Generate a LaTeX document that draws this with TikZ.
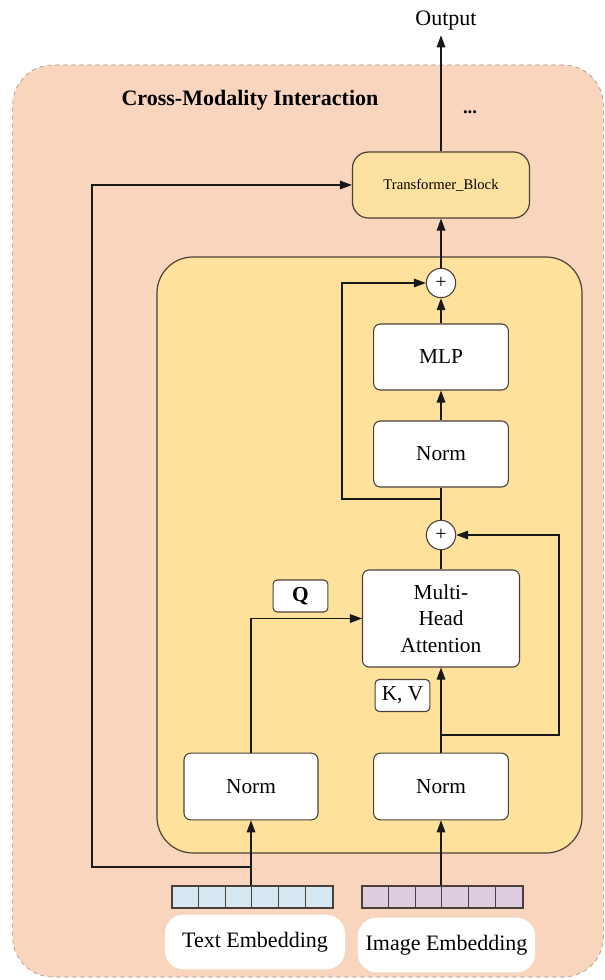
\documentclass[tikz,border=0pt]{standalone}
\usepackage{fontspec}
\setmainfont{Liberation Serif}
\usetikzlibrary{arrows.meta,calc}
\definecolor{peach}{HTML}{F9D5BD}
\definecolor{ylw}{HTML}{FEE29B}
\definecolor{tbfill}{HTML}{FDE1A0}
\definecolor{bord}{HTML}{4A4038}
\definecolor{tblue}{HTML}{D5E7F1}
\definecolor{tpurp}{HTML}{DDCCE0}
\begin{document}
\begin{tikzpicture}[x=0.75pt,y=-0.75pt,
  box/.style={draw=bord,line width=0.8pt,fill=white,rounded corners=5pt,align=center,inner sep=0pt,font=\fontsize{16}{20}\selectfont},
  lbl/.style={draw=bord,line width=0.8pt,fill=white,rounded corners=3pt,inner sep=0pt,minimum width=41pt,minimum height=24pt,font=\fontsize{16}{17}\selectfont},
  plus/.style={draw=bord,line width=0.8pt,fill=white,circle,inner sep=0pt,minimum size=22pt,font=\fontsize{15}{15}\selectfont},
  arr/.style={draw=black!90,line width=0.8pt,-{Triangle[length=9pt,width=6.5pt]}},
  ln/.style={draw=black!90,line width=0.8pt},
  bar/.style={draw=bord,line width=0.8pt,minimum width=120.75pt,minimum height=16.5pt,inner sep=0pt},
  emb/.style={fill=white,rounded corners=14pt,inner sep=0pt,font=\fontsize{16.5}{17}\selectfont}]
\useasboundingbox (0,0) rectangle (605,980);
% outer region
\node[draw=black!45,dashed,line width=0.4pt,fill=peach,rounded corners=30pt,minimum width=443pt,minimum height=684pt,inner sep=0pt] (outer) at (308,521) {};
% inner block
\node[draw=bord,line width=0.9pt,fill=ylw,rounded corners=27pt,minimum width=318.75pt,minimum height=447pt,inner sep=0pt] (inner) at (369.5,555) {};
% texts
\node[font=\fontsize{16.5}{17}\selectfont] (out) at (446,21) {Output};
\node[font=\bfseries\fontsize{16.5}{17}\selectfont] (title) at (250,100) {Cross-Modality Interaction};
\node[font=\bfseries\fontsize{14}{14}\selectfont] (dots) at (470,112) {...};
% transformer block
\node[draw=bord,line width=0.9pt,fill=tbfill,rounded corners=12pt,minimum width=132.75pt,minimum height=49.5pt,inner sep=0pt,font=\fontsize{11}{12}\selectfont] (tb) at (441,185) {Transformer\_Block};
% inner components
\node[plus] (p2) at (441,283) {+};
\node[box,minimum width=101pt,minimum height=49.5pt] (mlp) at (441,357) {MLP};
\node[box,minimum width=101pt,minimum height=49.5pt] (norm3) at (441,454) {Norm};
\node[plus] (p1) at (441,535) {+};
\node[box,minimum width=117.75pt,minimum height=72.75pt] (mha) at (441,618.5) {Multi-\\Head\\Attention};
\node[lbl,font=\bfseries\fontsize{16}{17}\selectfont] (q) at (300.5,596) {Q};
\node[lbl] (kv) at (402.5,695.5) {K, V};
\node[box,minimum width=100.5pt,minimum height=50pt] (norm1) at (251,786.5) {Norm};
\node[box,minimum width=101pt,minimum height=50pt] (norm2) at (441,786.5) {Norm};
% embedding bars
\node[bar,fill=tblue] (tbar) at (252.5,897) {};
\node[bar,fill=tpurp] (ibar) at (442.5,897) {};
\foreach \i in {1,...,5}{
  \draw[draw=bord,line width=0.8pt] ($(tbar.north west)+(\i*26.83,0)$) -- ($(tbar.south west)+(\i*26.83,0)$);
  \draw[draw=bord,line width=0.8pt] ($(ibar.north west)+(\i*26.83,0)$) -- ($(ibar.south west)+(\i*26.83,0)$);
}
\node[emb,minimum width=135pt,minimum height=41pt] (tlab) at (255,942) {Text Embedding};
\node[emb,minimum width=133pt,minimum height=41pt] (ilab) at (446.5,945) {Image Embedding};
% coordinates
\coordinate (jl) at (251,867);
\coordinate (cl) at (92,867);
\coordinate (s1) at (441,735);
\coordinate (s1r) at (559,735);
\coordinate (s2) at (441,499);
\coordinate (s2l) at (342,499);
% connectors
\draw[arr] (norm1.south |- tbar.north) -- (norm1.south);
\draw[arr] (norm2.south |- ibar.north) -- (norm2.south);
\draw[arr] (jl) -- (cl) |- (tb.west);
\draw[arr] (norm1.north) |- (mha.west);
\draw[arr] (norm2.north) -- (mha.south);
\draw[arr] (s1) -- (s1r) |- (p1.east);
\draw[ln] (mha.north) -- (p1.south);
\draw[ln] (p1.north) -- (norm3.south);
\draw[arr] (s2) -- (s2l) |- (p2.west);
\draw[arr] (norm3.north) -- (mlp.south);
\draw[arr] (mlp.north) -- (p2.south);
\draw[arr] (p2.north) -- (tb.south);
\draw[arr] (tb.north) -- (tb.north |- out.south);
\end{tikzpicture}
\end{document}
